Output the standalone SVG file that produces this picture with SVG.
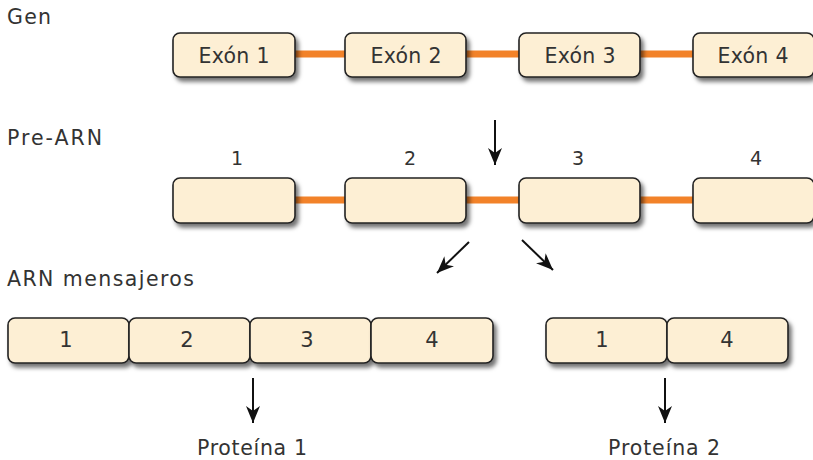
<svg xmlns="http://www.w3.org/2000/svg" width="813" height="460" viewBox="0 0 813 460">
  <defs>
    <filter id="shadow" x="-10%" y="-20%" width="130%" height="160%">
      <feDropShadow dx="3" dy="4" stdDeviation="2.2" flood-color="#000" flood-opacity="0.55"/>
    </filter>
    <marker id="head" viewBox="-17 -8 18 16" markerWidth="18" markerHeight="16" refX="0" refY="0" orient="auto" markerUnits="userSpaceOnUse">
      <path d="M0,0 L-17,-7 L-12,0 L-17,7 Z" fill="#111"/>
    </marker>
  </defs>
  <style>
    .box { fill: #fdefd4; stroke: #222; stroke-width: 1.6; filter: url(#shadow); }
    .intron { stroke: #f28229; stroke-width: 7; }
    .lbl { font-family: "DejaVu Sans", "Open Sans", sans-serif; font-size: 20.5px; fill: #333; }
    .num { font-family: "DejaVu Sans", "Open Sans", sans-serif; font-size: 21px; fill: #333; text-anchor: middle; }
    .small { font-size: 19px; }
    .mid { text-anchor: middle; }
    .arrow { stroke: #111; stroke-width: 2; fill: none; marker-end: url(#head); }
  </style>

  <!-- section titles -->
  <text class="lbl" x="7" y="24" textLength="44" lengthAdjust="spacing">Gen</text>
  <text class="lbl" x="7" y="145" textLength="95" lengthAdjust="spacing">Pre-ARN</text>
  <text class="lbl" x="7" y="286" textLength="187" lengthAdjust="spacing">ARN mensajeros</text>

  <!-- connectors: introns and arrows -->
  <g id="connectors">
    <line class="intron" x1="295" y1="54" x2="345" y2="54"/>
    <line class="intron" x1="466" y1="54" x2="519" y2="54"/>
    <line class="intron" x1="640" y1="54" x2="693" y2="54"/>
    <line class="intron" x1="295" y1="200" x2="345" y2="200"/>
    <line class="intron" x1="466" y1="200" x2="519" y2="200"/>
    <line class="intron" x1="640" y1="200" x2="693" y2="200"/>
    <line class="arrow" x1="495" y1="120" x2="495" y2="165"/>
    <line class="arrow" x1="469" y1="242" x2="437" y2="273"/>
    <line class="arrow" x1="522" y1="240" x2="553" y2="270"/>
    <line class="arrow" x1="253" y1="378" x2="253" y2="423"/>
    <line class="arrow" x1="665" y1="378" x2="665" y2="423"/>
  </g>

  <!-- gene exons -->
  <g id="gen-exon1"><rect class="box" x="173" y="33" width="122" height="44" rx="7"/><text class="lbl mid" x="234" y="63" textLength="71" lengthAdjust="spacing">Exón 1</text></g>
  <g id="gen-exon2"><rect class="box" x="345" y="33" width="121" height="44" rx="7"/><text class="lbl mid" x="406" y="63" textLength="71" lengthAdjust="spacing">Exón 2</text></g>
  <g id="gen-exon3"><rect class="box" x="519" y="33" width="121" height="44" rx="7"/><text class="lbl mid" x="580" y="63" textLength="71" lengthAdjust="spacing">Exón 3</text></g>
  <g id="gen-exon4"><rect class="box" x="693" y="33" width="121" height="44" rx="7"/><text class="lbl mid" x="753" y="63" textLength="71" lengthAdjust="spacing">Exón 4</text></g>

  <!-- pre-mRNA -->
  <g id="pre-1"><rect class="box" x="173" y="178" width="122" height="45" rx="7"/><text class="num small" x="237" y="165">1</text></g>
  <g id="pre-2"><rect class="box" x="345" y="178" width="121" height="45" rx="7"/><text class="num small" x="410" y="165">2</text></g>
  <g id="pre-3"><rect class="box" x="519" y="178" width="121" height="45" rx="7"/><text class="num small" x="578" y="165">3</text></g>
  <g id="pre-4"><rect class="box" x="693" y="178" width="121" height="45" rx="7"/><text class="num small" x="756" y="165">4</text></g>

  <!-- mRNA 1 -->
  <g id="arnm1-1"><rect class="box" x="8" y="318" width="121" height="45" rx="7"/><text class="num" x="66" y="347">1</text></g>
  <g id="arnm1-2"><rect class="box" x="129" y="318" width="121" height="45" rx="7"/><text class="num" x="187" y="347">2</text></g>
  <g id="arnm1-3"><rect class="box" x="250" y="318" width="121" height="45" rx="7"/><text class="num" x="307" y="347">3</text></g>
  <g id="arnm1-4"><rect class="box" x="371" y="318" width="122" height="45" rx="7"/><text class="num" x="432" y="347">4</text></g>

  <!-- mRNA 2 -->
  <g id="arnm2-1"><rect class="box" x="546" y="318" width="121" height="45" rx="7"/><text class="num" x="602" y="347">1</text></g>
  <g id="arnm2-4"><rect class="box" x="667" y="318" width="121" height="45" rx="7"/><text class="num" x="727" y="347">4</text></g>

  <!-- proteins -->
  <g id="proteina1"><text class="lbl mid" x="252" y="455" textLength="110" lengthAdjust="spacing">Proteína 1</text></g>
  <g id="proteina2"><text class="lbl mid" x="664" y="455" textLength="112" lengthAdjust="spacing">Proteína 2</text></g>
</svg>
